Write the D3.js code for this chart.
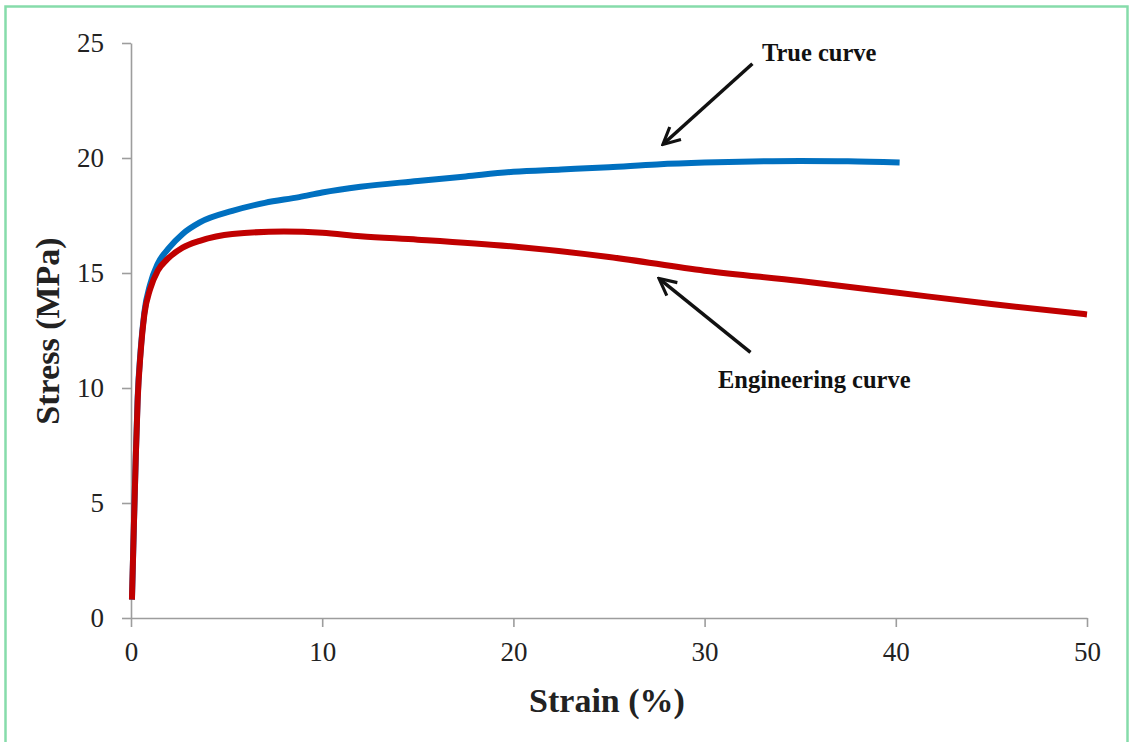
<!DOCTYPE html>
<html>
<head>
<meta charset="utf-8">
<script src="https://cdn.jsdelivr.net/npm/d3@7"></script>
<style>
  html, body { margin: 0; padding: 0; background: #fff; }
  svg { display: block; }
  .tick text { font-family: "Liberation Serif", "Times New Roman", serif; fill: #222; }
</style>
</head>
<body>
<div id="chart"></div>
<script>
// Strain (%) / Stress (MPa)
const trueStrain = [0.05, 0.15, 0.25, 0.35, 0.5, 0.7, 1.0, 1.4, 2.0, 2.7, 3.6, 5.3, 7, 8.8, 10, 12, 15, 17.5, 20, 22.5, 25, 27.5, 30, 32.5, 35, 37.5, 40.2];
const trueStress = [0.8, 4.0, 7.0, 9.6, 11.6, 13.3, 14.5, 15.4, 16.1, 16.7, 17.2, 17.7, 18.05, 18.3, 18.5, 18.75, 19.0, 19.2, 19.4, 19.5, 19.6, 19.72, 19.8, 19.85, 19.87, 19.86, 19.8];

const engStrain = [0.05, 0.15, 0.25, 0.35, 0.5, 0.7, 1.0, 1.4, 1.9, 2.7, 3.6, 5.3, 8, 10, 12, 15, 20, 25, 30, 35, 40, 45, 50];
const engStress = [0.8, 4.0, 7.0, 9.5, 11.5, 13.2, 14.3, 15.1, 15.6, 16.1, 16.4, 16.7, 16.8, 16.75, 16.6, 16.45, 16.15, 15.7, 15.1, 14.65, 14.15, 13.65, 13.2];

const xTicks = [0, 10, 20, 30, 40, 50];
const yTicks = [0, 5, 10, 15, 20, 25];

// annotations: [label, textX, textY, arrowTailX, arrowTailY, arrowHeadX, arrowHeadY] in data units
const notes = [
    ["True curve", 33.0, 24.2, 32.5, 24.1, 27.9, 20.65],
    ["Engineering curve", 30.7, 10.0, 32.4, 11.55, 27.7, 14.7]
];

const W = 1129, H = 742;
const margin = { left: 131, top: 43, right: 42, bottom: 124 };
const width = W - margin.left - margin.right;
const height = H - margin.top - margin.bottom;

const svgRoot = d3.select("#chart").append("svg")
    .attr("width", W)
    .attr("height", H);

// green frame round the figure
svgRoot.append("rect")
    .attr("x", 5.5).attr("y", 6.5)
    .attr("width", 1122).attr("height", 760)
    .attr("fill", "none")
    .attr("stroke", "#86dcaa")
    .attr("stroke-width", 2.5);

const svg = svgRoot.append("g")
    .attr("transform", `translate(${margin.left},${margin.top})`);

const xScale = d3.scaleLinear().domain([0, 50]).range([0, width]);
const yScale = d3.scaleLinear().domain([0, 25]).range([height, 0]);

// axes
const xAxis = svg.append("g")
    .attr("transform", `translate(0,${height})`)
    .call(d3.axisBottom(xScale).tickValues(xTicks).tickSize(9).tickSizeOuter(0).tickPadding(15));
const yAxis = svg.append("g")
    .call(d3.axisLeft(yScale).tickValues(yTicks).tickSize(9).tickSizeOuter(0).tickPadding(18));

[xAxis, yAxis].forEach(a => {
    a.select(".domain").attr("stroke", "#9d9d9d").attr("stroke-width", 1.6);
    a.selectAll(".tick line").attr("stroke", "#9d9d9d").attr("stroke-width", 1.6);
    a.selectAll(".tick text").style("font-size", "27px");
});
yAxis.selectAll(".tick text").attr("dy", "0.33em");

// curves
const line = d3.line()
    .x(d => xScale(d[0]))
    .y(d => yScale(d[1]))
    .curve(d3.curveMonotoneX);

svg.append("path")
    .datum(trueStrain.map((s, i) => [s, trueStress[i]]))
    .attr("d", line)
    .attr("fill", "none")
    .attr("stroke", "#0070c0")
    .attr("stroke-width", 6);

svg.append("path")
    .datum(engStrain.map((s, i) => [s, engStress[i]]))
    .attr("d", line)
    .attr("fill", "none")
    .attr("stroke", "#c00000")
    .attr("stroke-width", 6);

// arrows + labels
svgRoot.append("defs").append("marker")
    .attr("id", "head")
    .attr("viewBox", "0 0 10 10")
    .attr("refX", 8).attr("refY", 5)
    .attr("markerWidth", 6).attr("markerHeight", 6)
    .attr("orient", "auto")
    .append("path")
    .attr("d", "M1,1 L9,5 L1,9")
    .attr("fill", "none")
    .attr("stroke", "#111")
    .attr("stroke-width", 1.5);

notes.forEach(n => {
    svg.append("line")
        .attr("x1", xScale(n[3])).attr("y1", yScale(n[4]))
        .attr("x2", xScale(n[5])).attr("y2", yScale(n[6]))
        .attr("stroke", "#111")
        .attr("stroke-width", 3.5)
        .attr("marker-end", "url(#head)");
    svg.append("text")
        .attr("x", xScale(n[1])).attr("y", yScale(n[2]))
        .attr("font-family", "Liberation Serif, Times New Roman, serif")
        .attr("font-weight", "bold")
        .attr("font-size", 24.5)
        .attr("fill", "#111")
        .text(n[0]);
});

// axis titles
svg.append("text")
    .attr("x", width / 2 - 2)
    .attr("y", height + 94)
    .attr("text-anchor", "middle")
    .attr("font-family", "Liberation Serif, Times New Roman, serif")
    .attr("font-weight", "bold")
    .attr("font-size", 34)
    .attr("fill", "#222")
    .text("Strain (%)");

svg.append("text")
    .attr("transform", "rotate(-90)")
    .attr("x", -(288))
    .attr("y", -72)
    .attr("text-anchor", "middle")
    .attr("font-family", "Liberation Serif, Times New Roman, serif")
    .attr("font-weight", "bold")
    .attr("font-size", 34)
    .attr("fill", "#222")
    .text("Stress (MPa)");
</script>
</body>
</html>
